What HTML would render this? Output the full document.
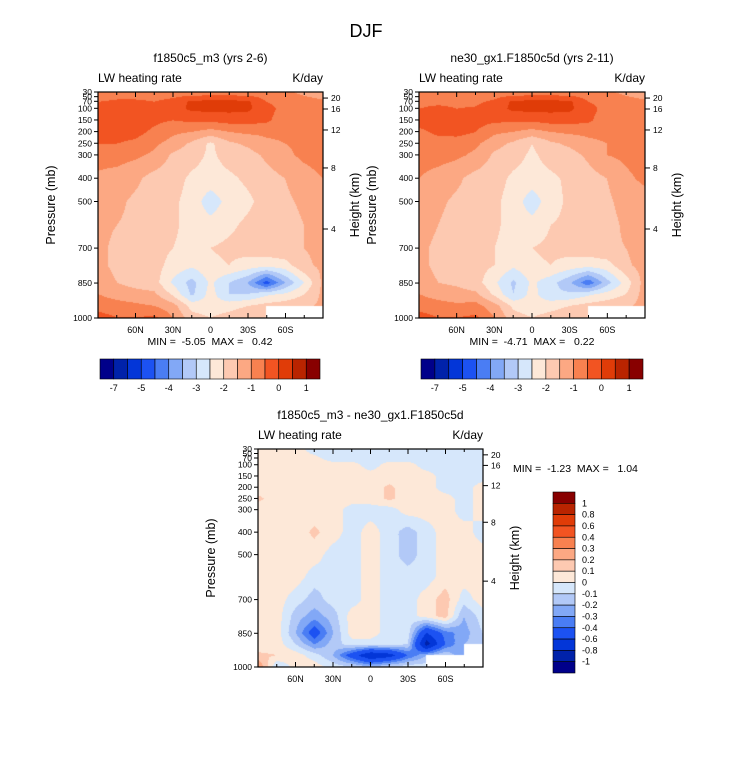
<!DOCTYPE html>
<html><head><meta charset="utf-8"><style>
body{margin:0;background:#fff;width:733px;height:772px;position:relative;overflow:hidden;font-family:"Liberation Sans",sans-serif}
canvas{position:absolute}
svg{position:absolute;left:0;top:0}
text{white-space:pre}
</style></head><body>
<canvas id="c0" width="225" height="226" style="left:98px;top:92px"></canvas>
<canvas id="c1" width="226" height="226" style="left:419px;top:92px"></canvas>
<canvas id="c2" width="225" height="218" style="left:258px;top:449px"></canvas>
<svg id="s" width="733" height="772"></svg>
<script>
const lats=[90,75,60,45,30,15,0,-15,-30,-45,-60,-75,-90];
const pres=[30,70,100,150,200,250,300,400,500,600,700,775,850,900,950,1000];
const N=NaN;
const fieldA=[
[-0.9,-0.8,-0.8,-0.8,-0.8,-0.8,-0.8,-0.8,-0.8,-0.8,-0.9,-1.1,-1.3],
[-0.5,-0.4,-0.4,-0.5,-0.3,0.1,0.15,0.15,0.1,-0.5,-0.7,-0.8,-0.9],
[-0.3,-0.3,-0.35,-0.4,-0.2,0.1,0.15,0.15,0.1,-0.3,-0.7,-0.8,-0.9],
[-0.2,-0.2,-0.3,-0.4,-0.5,-0.4,-0.4,-0.3,-0.3,-0.4,-0.8,-0.8,-0.9],
[-0.3,-0.3,-0.35,-0.6,-0.9,-1.0,-1.2,-1.0,-0.9,-0.9,-0.9,-0.9,-0.9],
[-0.5,-0.5,-0.6,-0.9,-1.2,-1.6,-2.1,-1.6,-1.4,-1.1,-1.0,-0.9,-0.9],
[-0.8,-0.8,-0.9,-1.1,-1.6,-1.8,-2.1,-1.8,-1.7,-1.4,-1.1,-0.9,-0.8],
[-1.1,-1.2,-1.4,-1.7,-1.8,-2.1,-2.2,-2.1,-1.9,-1.7,-1.5,-1.2,-1.0],
[-1.3,-1.4,-1.6,-1.7,-1.9,-2.2,-2.8,-2.3,-2.1,-1.8,-1.6,-1.4,-1.3],
[-1.4,-1.5,-1.6,-1.8,-1.9,-2.2,-2.3,-2.1,-1.9,-1.8,-1.7,-1.5,-1.4],
[-1.4,-1.6,-1.7,-1.8,-2.0,-2.2,-2.0,-1.9,-1.8,-1.7,-1.6,-1.5,-1.4],
[-1.4,-1.6,-1.7,-1.8,-2.2,-2.4,-2.1,-2.0,-2.2,-2.3,-2.2,-1.6,-1.4],
[-1.3,-1.5,-1.7,-1.8,-2.6,-3.2,-2.4,-3.0,-3.5,-4.8,-3.5,-2.5,-1.4],
[-1.0,-1.2,-1.3,-1.4,-2.1,-3.1,-2.3,-3.0,-3.0,-2.6,-2.4,-2.0,-1.4],
[-0.7,-0.8,-0.9,-1.0,-1.3,-2.2,-2.3,-2.2,-2.0,-1.8,-1.7,-1.6,-1.4],
[-0.3,-0.5,-0.5,-0.4,-1.0,-1.8,-2.0,-1.8,-1.6,-1.5,N,N,-1.4]];
const fieldB=[
[-0.9,-0.8,-0.8,-0.8,-0.8,-0.8,-0.8,-0.8,-0.8,-0.8,-0.9,-1.1,-1.3],
[-0.6,-0.6,-0.6,-0.6,-0.4,0.1,0.15,0.15,0.1,-0.5,-0.7,-0.8,-0.9],
[-0.5,-0.4,-0.5,-0.45,-0.2,0.1,0.15,0.15,0.1,-0.3,-0.7,-0.8,-0.9],
[-0.3,-0.3,-0.3,-0.3,-0.4,-0.4,-0.4,-0.3,-0.3,-0.4,-0.8,-0.8,-0.9],
[-0.6,-0.4,-0.3,-0.5,-0.9,-1.0,-1.2,-1.0,-0.9,-0.9,-0.9,-0.9,-0.9],
[-0.7,-0.7,-0.8,-0.9,-1.3,-1.6,-2.0,-1.6,-1.4,-1.1,-1.0,-0.9,-0.9],
[-0.8,-0.8,-0.9,-1.1,-1.6,-1.8,-2.1,-1.8,-1.7,-1.4,-1.0,-0.9,-0.8],
[-1.0,-1.2,-1.4,-1.7,-1.8,-2.1,-2.2,-2.1,-1.9,-1.7,-1.5,-1.1,-0.9],
[-1.2,-1.4,-1.6,-1.7,-1.9,-2.2,-2.8,-2.2,-1.9,-1.8,-1.6,-1.3,-1.2],
[-1.3,-1.5,-1.7,-1.8,-1.9,-2.2,-2.3,-2.0,-1.9,-1.8,-1.7,-1.4,-1.3],
[-1.4,-1.6,-1.7,-1.8,-2.0,-2.2,-2.0,-1.9,-1.8,-1.7,-1.6,-1.5,-1.3],
[-1.4,-1.6,-1.7,-1.8,-2.0,-2.4,-2.1,-2.0,-2.2,-2.3,-2.2,-1.6,-1.3],
[-1.3,-1.5,-1.6,-1.8,-2.4,-3.1,-2.4,-2.8,-3.4,-4.4,-3.2,-2.3,-1.3],
[-1.0,-1.2,-1.3,-1.4,-2.1,-3.0,-2.3,-2.9,-2.9,-2.6,-2.3,-2.0,-1.3],
[-0.7,-0.8,-0.9,-0.8,-1.3,-2.1,-2.3,-2.2,-2.0,-1.8,-1.7,-1.6,-1.3],
[-0.3,-0.5,-0.5,-0.4,-1.0,-1.8,-2.0,-1.8,-1.6,-1.5,N,N,-1.3]];
const fieldD=[
[0.05,0.05,0.05,-0.05,-0.05,-0.05,-0.05,-0.05,-0.05,-0.05,-0.05,-0.05,-0.05],
[0.05,0.05,0.05,0.03,-0.05,-0.05,-0.05,-0.05,-0.05,-0.05,-0.05,-0.05,-0.05],
[0.05,0.05,0.05,0.05,0.05,0.05,-0.05,0.05,0.05,-0.05,-0.05,-0.05,-0.05],
[0.05,0.05,0.05,0.05,0.05,0.05,0.05,0.05,0.05,0.05,-0.05,-0.05,-0.05],
[0.05,0.05,0.05,0.05,0.05,0.05,0.05,0.12,0.05,0.05,-0.05,-0.05,0.05],
[0.12,0.05,0.05,0.05,0.05,0.05,0.05,0.12,0.05,0.05,0.05,-0.05,0.05],
[0.05,0.05,0.05,0.05,0.05,-0.05,-0.05,-0.05,0.05,0.05,0.05,-0.05,0.05],
[0.05,0.05,0.05,0.12,0.05,-0.05,0.05,-0.05,-0.15,-0.05,0.05,0.05,-0.05],
[0.05,0.05,0.05,0.05,-0.05,-0.05,0.05,-0.05,-0.15,-0.05,0.05,0.05,0.05],
[0.05,0.05,0.05,-0.05,-0.05,-0.05,0.05,-0.05,-0.05,-0.05,0.05,0.05,0.05],
[0.05,0.05,-0.05,-0.15,-0.05,-0.05,0.05,-0.05,-0.05,0.05,0.15,-0.05,0.05],
[0.05,0.05,-0.15,-0.25,-0.15,0.05,0.05,-0.05,-0.05,0.05,0.15,-0.2,-0.05],
[0.05,0.05,-0.2,-0.5,-0.2,0.05,0.05,-0.05,-0.05,-0.6,-0.35,-0.25,-0.1],
[0.05,0.05,-0.1,-0.3,-0.15,-0.05,-0.05,-0.05,-0.1,-0.9,-0.4,-0.2,-0.15],
[0.12,0.1,0.05,-0.05,-0.2,-0.5,-0.8,-0.7,-0.4,-0.2,-0.1,-0.3,N],
[0.3,-0.1,0.05,0.05,-0.05,-0.1,-0.2,-0.1,-0.05,-0.05,N,N,N]];
const levelsTop=[-7,-6,-5,-4.5,-4,-3.5,-3,-2.5,-2,-1.5,-1,-0.5,0,0.5,1];
const levelsDiff=[-1,-0.8,-0.6,-0.4,-0.3,-0.2,-0.1,0,0.1,0.2,0.3,0.4,0.6,0.8,1];
const topLabels=["-7","-5","-4","-3","-2","-1","0","1"];
const diffLabels=["1","0.8","0.6","0.4","0.3","0.2","0.1","0","-0.1","-0.2","-0.3","-0.4","-0.6","-0.8","-1"];
const pTicks=[30,50,70,100,150,200,250,300,400,500,700,850,1000];
const hTickLabels=["20","16","12","8","4"];
const hTickP=[56,103,193,356,618];
const latTicks=[60,30,0,-30,-60];
const latLabels=["60N","30N","0","30S","60S"];
const colors=["#00008a","#0022aa","#0336d8","#1c52f2","#4a7df4","#82a8f6","#b2c9f7","#d6e7fb","#fde8d8","#fdc9b1","#fca883","#f88150","#f25422","#e03c08","#b92400","#880000"];

function lvl(v,levels){let i=0;while(i<levels.length&&v>=levels[i])i++;return i;}
function render(id,field,levels,W,H){
  const c=document.getElementById(id),ctx=c.getContext('2d'),img=ctx.createImageData(W,H);
  for(let y=0;y<H;y++){
    const p=30+y/(H-1)*970;
    let r=0;while(r<pres.length-2&&p>pres[r+1])r++;
    const ty=(p-pres[r])/(pres[r+1]-pres[r]);
    for(let x=0;x<W;x++){
      const lat=90-x/(W-1)*180;
      let cI=Math.min(11,Math.floor((90-lat)/15));const tx=((90-lat)-cI*15)/15;
      const a=field[r][cI],b=field[r][cI+1],d=field[r+1][cI],e=field[r+1][cI+1];
      const v=(a*(1-tx)+b*tx)*(1-ty)+(d*(1-tx)+e*tx)*ty;
      const k=(y*W+x)*4;
      if(isNaN(v)){img.data[k]=img.data[k+1]=img.data[k+2]=255;img.data[k+3]=255;continue;}
      const col=colors[lvl(v,levels)];
      img.data[k]=parseInt(col.substr(1,2),16);img.data[k+1]=parseInt(col.substr(3,2),16);img.data[k+2]=parseInt(col.substr(5,2),16);img.data[k+3]=255;
    }
  }
  ctx.putImageData(img,0,0);
}
render('c0',fieldA,levelsTop,225,226);
render('c1',fieldB,levelsTop,226,226);
render('c2',fieldD,levelsDiff,225,218);

const S=document.getElementById('s');const NS='http://www.w3.org/2000/svg';
function el(t,at,txt){const e=document.createElementNS(NS,t);for(const k in at)e.setAttribute(k,at[k]);if(txt!==undefined)e.textContent=txt;S.appendChild(e);return e;}
function txt(x,y,s,size,anchor,name,extra){const e=el('text',Object.assign({x:x,y:y,'font-size':size,'text-anchor':anchor||'middle',fill:'#000'},extra||{}),s);

return e;}
txt(366,37,'DJF',18,'middle','main-title');
function panel(x0,y0,W,H,title,tag){
  const sy=p=>y0+(p-30)/970*H, sx=l=>x0+(90-l)/180*W;
  txt(x0+W/2,y0-30,title,12,'middle',tag+'-title');
  txt(x0,y0-10,'LW heating rate',12,'start',tag+'-variable-label');
  txt(x0+W,y0-10,'K/day',12,'end',tag+'-units-label');
  const fr=el('rect',{x:x0,y:y0,width:W,height:H,fill:'none',stroke:'#000','stroke-width':1.2});
  
  
  pTicks.forEach(p=>{el('line',{x1:x0-4,x2:x0,y1:sy(p),y2:sy(p),stroke:'#000'});
    txt(x0-6,sy(p)+3,String(p),8.5,'end',tag+'-pressure-tick');});
  hTickP.forEach((p,i)=>{el('line',{x1:x0+W,x2:x0+W+5,y1:sy(p),y2:sy(p),stroke:'#000'});
    txt(x0+W+8,sy(p)+3,hTickLabels[i],8.5,'start',tag+'-height-tick');});
  for(let l=-75;l<=75;l+=15){const maj=l%30===0;
    el('line',{x1:sx(l),x2:sx(l),y1:y0+H,y2:y0+H-(maj?5:3),stroke:'#000'});
    el('line',{x1:sx(l),x2:sx(l),y1:y0,y2:y0+(maj?5:3),stroke:'#000'});}
  latTicks.forEach((l,i)=>txt(sx(l),y0+H+15,latLabels[i],9,'middle',tag+'-lat-tick'));
  txt(0,0,'Pressure (mb)',12.5,'middle',tag+'-y-axis-title',{transform:`translate(${x0-43},${y0+H/2}) rotate(-90)`});
  txt(0,0,'Height (km)',12.5,'middle',tag+'-right-axis-title',{transform:`translate(${x0+W+36},${y0+H/2}) rotate(-90)`});
}
panel(98,92,225,226,'f1850c5_m3 (yrs 2-6)','panel-1');
panel(419,92,226,226,'ne30_gx1.F1850c5d (yrs 2-11)','panel-2');
panel(258,449,225,218,'f1850c5_m3 - ne30_gx1.F1850c5d','panel-diff');
txt(210,345,'MIN =  -5.05  MAX =   0.42',10.5,'middle','min-max-1');
txt(532,345,'MIN =  -4.71  MAX =   0.22',10.5,'middle','min-max-2');
txt(513,472,'MIN =  -1.23  MAX =   1.04',10.5,'start','min-max-diff');
function hbar(x0,y0,W,H,tag){const bw=W/16;
  colors.forEach((c,i)=>{const r=el('rect',{x:x0+i*bw,y:y0,width:bw,height:H,fill:c,stroke:'#000','stroke-width':0.6});
  
  });
  topLabels.forEach((s,j)=>txt(x0+(2*j+1)*bw,y0+H+12,s,9,'middle',tag+'-label'));}
hbar(100,359,220,20,'colorbar-1');hbar(421,359,222,20,'colorbar-2');
const bh=181/16;
colors.slice().reverse().forEach((c,i)=>{const r=el('rect',{x:553,y:492+i*bh,width:22,height:bh,fill:c,stroke:'#000','stroke-width':0.6});

});
diffLabels.forEach((s,i)=>txt(582,492+(i+1)*bh+3,s,9,'start','colorbar-diff-label'));
</script>
</body></html>
